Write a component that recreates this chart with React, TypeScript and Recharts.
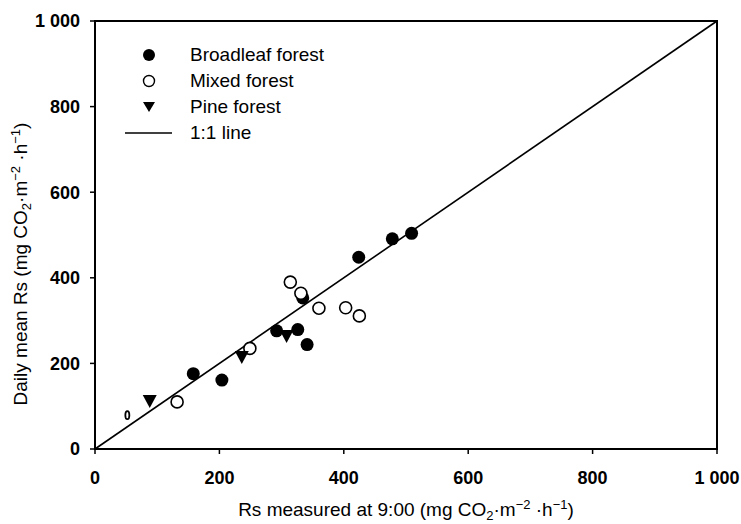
import React from "react";
import {
  ScatterChart,
  Scatter,
  XAxis,
  YAxis,
  ReferenceLine,
  ReferenceArea,
} from "recharts";

// values (mg CO2 m-2 h-1)
const broadleafX = [158, 204, 292, 326, 341, 334, 424, 478, 509];
const broadleafY = [176, 161, 276, 279, 244, 353, 448, 491, 504];
const mixedX = [132, 249, 314, 331, 360, 403, 425];
const mixedY = [110, 235, 390, 364, 329, 330, 311];
const mixedSmallX = [52];
const mixedSmallY = [79];
const pineX = [88, 236, 308];
const pineY = [112, 215, 264];
const axisTicks = [0, 200, 400, 600, 800, 1000];

const toPoints = (xs: number[], ys: number[]) => xs.map((x, i) => ({ x, y: ys[i] }));

const broadleaf = toPoints(broadleafX, broadleafY);
const mixed = toPoints(mixedX, mixedY);
const mixedSmall = toPoints(mixedSmallX, mixedSmallY);
const pine = toPoints(pineX, pineY);

const FONT = "'Liberation Sans', Arial, sans-serif";
const fmt = (v: number) => (v === 1000 ? "1 000" : String(v));

const Filled = (p: any) => <circle cx={p.cx} cy={p.cy} r={6.5} fill="#000" />;
const Open = (p: any) => (
  <circle cx={p.cx} cy={p.cy} r={6} fill="#fff" stroke="#000" strokeWidth={1.6} />
);
const Small = (p: any) => (
  <ellipse cx={p.cx} cy={p.cy} rx={2} ry={4} fill="#fff" stroke="#000" strokeWidth={1.8} />
);
const Tri = (p: any) => (
  <path d={`M${p.cx - 7},${p.cy - 6} L${p.cx + 7},${p.cy - 6} L${p.cx},${p.cy + 7} Z`} fill="#000" />
);

const Unit = () => (
  <>
    (mg CO
    <tspan dy={4} fontSize={13}>2</tspan>
    <tspan dy={-4}>·m</tspan>
    <tspan dy={-7} fontSize={13}>−2</tspan>
    <tspan dy={7}> ·h</tspan>
    <tspan dy={-7} fontSize={13}>−1</tspan>
    <tspan dy={7}>)</tspan>
  </>
);

const XTitle = ({ viewBox }: any) => (
  <text
    x={viewBox.x + viewBox.width / 2}
    y={viewBox.y + 67}
    textAnchor="middle"
    fontFamily={FONT}
    fontSize={19}
    fill="#000"
  >
    Rs measured at 9:00 <Unit />
  </text>
);

const YTitle = () => {
  const cx = 27;
  const cy = 264;
  return (
    <text
      x={cx}
      y={cy}
      transform={`rotate(-90 ${cx} ${cy})`}
      textAnchor="middle"
      fontFamily={FONT}
      fontSize={19}
      fill="#000"
    >
      Daily mean Rs <Unit />
    </text>
  );
};

function LegendBox() {
  const rows: [string, React.ReactNode][] = [
    ["Broadleaf forest", <circle cx={24} cy={10} r={6} fill="#000" />],
    ["Mixed forest", <circle cx={24} cy={10} r={5.5} fill="#fff" stroke="#000" strokeWidth={1.4} />],
    ["Pine forest", <path d="M18,5 L30,5 L24,15 Z" fill="#000" />],
    ["1:1 line", <line x1={0} y1={10} x2={47} y2={10} stroke="#000" strokeWidth={1.5} />],
  ];
  return (
    <div
      style={{
        position: "absolute",
        left: 125,
        top: 42,
        fontFamily: FONT,
        fontSize: 19,
        color: "#000",
      }}
    >
      {rows.map(([name, icon]) => (
        <div key={name} style={{ display: "flex", alignItems: "center", height: 26 }}>
          <svg width={65} height={20}>{icon}</svg>
          <span>{name}</span>
        </div>
      ))}
    </div>
  );
}

export default function App() {
  return (
    <div style={{ position: "absolute", left: 0, top: 0, width: 741, height: 524, background: "#fff" }}>
      <ScatterChart width={741} height={524} margin={{ top: 21, right: 24, bottom: 0, left: 0 }}>
        <XAxis
          type="number"
          dataKey="x"
          domain={[0, 1000]}
          ticks={axisTicks}
          tickFormatter={fmt}
          height={75}
          tickSize={5}
          tickMargin={17}
          axisLine={{ stroke: "#000", strokeWidth: 2 }}
          tickLine={{ stroke: "#000", strokeWidth: 1.5 }}
          tick={{ fill: "#000", fontSize: 18, fontWeight: "bold", fontFamily: FONT }}
          label={{ content: XTitle }}
        />
        <YAxis
          type="number"
          dataKey="y"
          domain={[0, 1000]}
          ticks={axisTicks}
          tickFormatter={fmt}
          width={95}
          tickSize={5}
          tickMargin={10}
          axisLine={{ stroke: "#000", strokeWidth: 2 }}
          tickLine={{ stroke: "#000", strokeWidth: 1.5 }}
          tick={{ fill: "#000", fontSize: 18, fontWeight: "bold", fontFamily: FONT }}
          label={{ content: YTitle }}
        />
        <ReferenceArea x1={0} x2={1000} y1={0} y2={1000} fill="none" stroke="#000" strokeWidth={2} />
        <ReferenceLine
          segment={[
            { x: 0, y: 0 },
            { x: 1000, y: 1000 },
          ]}
          stroke="#000"
          strokeWidth={1.6}
        />
        <Scatter name="Broadleaf forest" data={broadleaf} shape={Filled} isAnimationActive={false} />
        <Scatter name="Mixed forest" data={mixed} shape={Open} isAnimationActive={false} />
        <Scatter name="Mixed small" data={mixedSmall} shape={Small} isAnimationActive={false} />
        <Scatter name="Pine forest" data={pine} shape={Tri} isAnimationActive={false} />
      </ScatterChart>
      <LegendBox />
    </div>
  );
}
